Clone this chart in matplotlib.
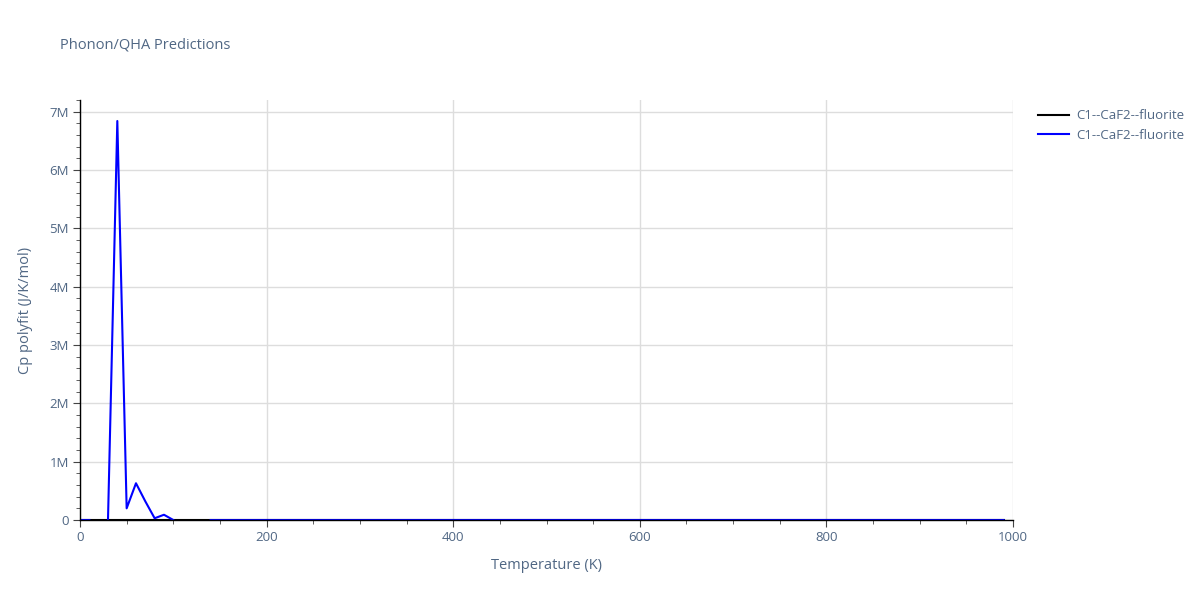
import matplotlib as mpl
import matplotlib.pyplot as plt
import numpy as np
from matplotlib.ticker import MultipleLocator, FuncFormatter

mpl.rcParams.update({
    "font.family": ["Open Sans", "DejaVu Sans"],
    "axes.spines.top": False, "axes.spines.right": False,
})

# temperature grid (K) and Cp polyfit values (J/K/mol)
TEMPS = np.arange(0, 1000, 10)
CP_BLACK = np.zeros(len(TEMPS))
CP_BLUE = np.zeros(len(TEMPS))
CP_BLUE[2] = np.nan                      # gap at 20 K
CP_BLUE[3:11] = [0.0, 6.84e6, 0.20e6, 0.63e6, 0.32e6, 0.03e6, 0.09e6, 0.0]
CP_BLUE[11:14] = np.nan                  # gap 110-130 K
LABELS = ["C1--CaF2--fluorite", "C1--CaF2--fluorite"]

TXT = "#2a3f5f"
TICK_TXT = "#506784"
fig = plt.figure(figsize=(12, 6), dpi=100)
ax = fig.add_axes([80 / 1200, 80 / 600, 933 / 1200, 420 / 600])

ax.plot(TEMPS, CP_BLACK, color="black", lw=1.5, label=LABELS[0])
ax.plot(TEMPS, CP_BLUE, color="blue", lw=1.5, label=LABELS[1])

ax.set_xlim(0, 1000)
ax.set_ylim(0, 7.2e6)
ax.xaxis.set_major_locator(MultipleLocator(200))
ax.xaxis.set_minor_locator(MultipleLocator(50))
ax.yaxis.set_major_locator(MultipleLocator(1e6))
ax.yaxis.set_minor_locator(MultipleLocator(2e5))
ax.yaxis.set_major_formatter(FuncFormatter(lambda v, p: "0" if v == 0 else f"{v / 1e6:.0f}M"))
ax.grid(True, which="major", color="#dddddd", lw=1)
ax.set_axisbelow(True)
# no gridline at the right edge
ax.get_xgridlines()[-1].set_visible(False)
for s in ("left", "bottom"):
    ax.spines[s].set_color("black")
    ax.spines[s].set_linewidth(1)
ax.tick_params(which="major", length=5, color="#444444", labelcolor=TICK_TXT, labelsize=9.5, pad=3)
ax.tick_params(which="minor", length=3, color="#444444")

ax.set_xlabel("Temperature (K)", color=TICK_TXT, fontsize=10.5, labelpad=10)
ax.set_ylabel("Cp polyfit (J/K/mol)", color=TICK_TXT, fontsize=10.5, labelpad=12)
fig.text(60 / 1200, 1 - 45 / 600, "Phonon/QHA Predictions", color=TICK_TXT, fontsize=10.5, va="center")

ax.legend(loc="upper left", bbox_to_anchor=(1029 / 933 - 80 / 933, 1.0), frameon=False,
          fontsize=9.5, labelcolor=TICK_TXT, handlelength=2.3, borderaxespad=0.3, handletextpad=0.6)

fig.savefig("out.png", dpi=100)
